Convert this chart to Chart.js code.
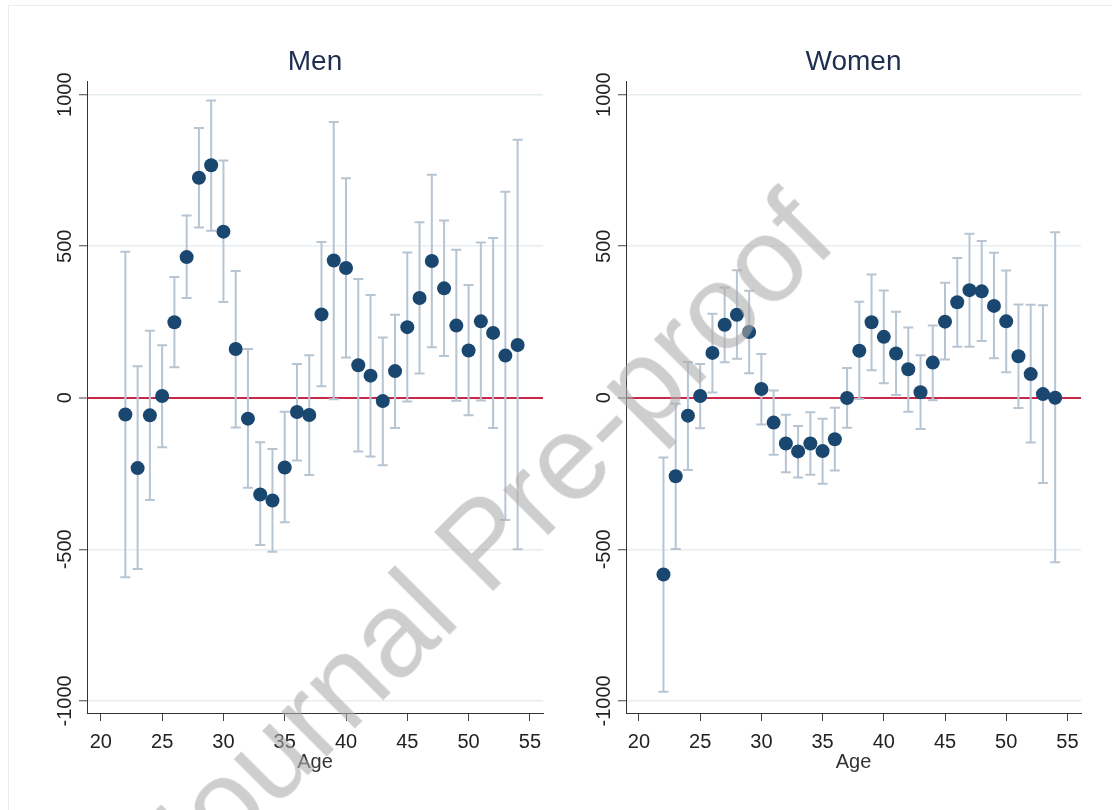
<!DOCTYPE html>
<html>
<head>
<meta charset="utf-8">
<script src="https://cdn.jsdelivr.net/npm/chart.js@4.4.0/dist/chart.umd.min.js"></script>
<style>
  body { margin: 0; background: #fff; width: 1112px; height: 810px; overflow: hidden; position: relative; font-family: "Liberation Sans", Arial, sans-serif; }
  .frame { position: absolute; left: 8px; top: 5px; width: 1120px; height: 830px; border: 1px solid #ececec; }
  .panel { position: absolute; top: 0; width: 556px; height: 810px; }
  #men-wrap { left: 0; }
  #women-wrap { left: 556px; }
  .watermark {
    position: absolute; left: 482px; top: 542px;
    transform: translate(-50%, -50%) rotate(-45deg);
    font-family: "Liberation Sans", Arial, sans-serif;
    font-size: 120px; white-space: nowrap;
    color: rgba(170,170,170,0.58); pointer-events: none;
  }
</style>
</head>
<body>
<div class="frame"></div>
<div class="panel" id="men-wrap"><canvas id="menChart" width="556" height="810"></canvas></div>
<div class="panel" id="women-wrap"><canvas id="womenChart" width="556" height="810"></canvas></div>
<div class="watermark">Journal Pre-proof</div>

<script>
// ---- data ----
const ages = [22, 23, 24, 25, 26, 27, 28, 29, 30, 31, 32, 33, 34, 35, 36, 37, 38,
              39, 40, 41, 42, 43, 44, 45, 46, 47, 48, 49, 50, 51, 52, 53, 54];

const menEst = [-55, -232, -58, 6, 249, 464, 726, 767, 548, 161, -69, -319, -339, -230, -47, -57, 275,
                453, 428, 107, 73, -11, 88, 233, 329, 451, 361, 238, 156, 252, 214, 139, 174];
const menLo  = [-592, -565, -337, -163, 101, 329, 562, 551, 316, -98, -297, -486, -508, -411, -207, -255, 38,
                -5, 133, -177, -194, -223, -100, -12, 80, 167, 138, -10, -58, -9, -100, -403, -500];
const menHi  = [482, 104, 221, 173, 398, 601, 890, 981, 783, 418, 161, -147, -169, -46, 111, 140, 514,
                910, 724, 392, 339, 199, 274, 479, 579, 736, 585, 488, 372, 512, 527, 680, 851];

const womenEst = [-583, -259, -59, 6, 148, 241, 274, 217, 29, -82, -151, -177, -151, -176, -137, -1, 155,
                  249, 201, 146, 94, 18, 116, 251, 315, 355, 351, 303, 252, 137, 78, 12, 0];
const womenLo  = [-970, -499, -238, -101, 17, 117, 129, 81, -88, -188, -246, -263, -254, -284, -240, -99, -4,
                  91, 48, 9, -46, -103, -8, 126, 168, 168, 187, 130, 84, -34, -148, -281, -543];
const womenHi  = [-197, -20, 118, 111, 277, 364, 421, 353, 144, 24, -56, -93, -48, -69, -33, 98, 317,
                  407, 354, 284, 232, 140, 238, 379, 461, 541, 517, 478, 420, 308, 307, 305, 546];

const xTicks = [20, 25, 30, 35, 40, 45, 50, 55];
const yTicks = [1000, 500, 0, -500, -1000];

const FONT = '"Liberation Sans", Arial, sans-serif';
const NAVY = "#1a476f";
const BAR = "#b7c5d3";
const RED = "#c8284a";
const GRID = "#e6eef2";

// error bars drawn under the points
const errorBarsPlugin = {
  id: "errorBars",
  beforeDatasetsDraw(chart, args, opts) {
    const { ctx, scales } = chart;
    const x = scales.x, y = scales.y;
    ctx.save();
    ctx.strokeStyle = BAR;
    ctx.lineWidth = 2;
    opts.x.forEach((a, i) => {
      const px = x.getPixelForValue(a);
      const top = y.getPixelForValue(opts.hi[i]);
      const bot = y.getPixelForValue(opts.lo[i]);
      ctx.beginPath();
      ctx.moveTo(px, top); ctx.lineTo(px, bot);
      ctx.moveTo(px - 5, top); ctx.lineTo(px + 5, top);
      ctx.moveTo(px - 5, bot); ctx.lineTo(px + 5, bot);
      ctx.stroke();
    });
    ctx.restore();
  }
};

// vertical y tick labels, stata style
const yLabelsPlugin = {
  id: "yLabels",
  afterDraw(chart) {
    const { ctx, scales, chartArea } = chart;
    ctx.save();
    ctx.font = "20px " + FONT;
    ctx.fillStyle = "#222";
    ctx.textAlign = "center";
    ctx.textBaseline = "alphabetic";
    yTicks.forEach(v => {
      const py = scales.y.getPixelForValue(v);
      ctx.save();
      ctx.translate(chartArea.left - 16, py);
      ctx.rotate(-Math.PI / 2);
      ctx.fillText(String(v), 0, 0);
      ctx.restore();
    });
    ctx.restore();
  }
};

function makePanel(id, title, est, lo, hi, xMin, xMax, pad) {
  const ctx = document.getElementById(id).getContext("2d");
  return new Chart(ctx, {
    type: "scatter",
    data: {
      datasets: [{
        data: ages.map((a, i) => ({ x: a, y: est[i] })),
        backgroundColor: NAVY,
        borderColor: NAVY,
        borderWidth: 0,
        pointRadius: 7,
        pointHoverRadius: 7
      }]
    },
    options: {
      responsive: false,
      animation: false,
      layout: { padding: pad },
      plugins: {
        legend: { display: false },
        tooltip: { enabled: false },
        title: {
          display: true,
          text: title,
          fullSize: false,
          color: "#1f2f4f",
          font: { family: FONT, size: 28, weight: "normal", lineHeight: 1.2 },
          padding: { top: 45, bottom: 3 }
        },
        errorBars: { x: ages, lo: lo, hi: hi }
      },
      scales: {
        x: {
          type: "linear",
          min: xMin,
          max: xMax,
          afterBuildTicks: s => { s.ticks = xTicks.map(v => ({ value: v })); },
          afterFit: s => { s.height = 70; },
          grid: { drawOnChartArea: false, drawTicks: true, tickLength: 8, tickColor: "#444", tickWidth: 1 },
          border: { display: true, color: "#333", width: 1 },
          ticks: {
            autoSkip: false, maxRotation: 0, padding: 9, color: "#222",
            font: { family: FONT, size: 20 },
            callback: v => String(v)
          },
          title: {
            display: true, text: "Age", color: "#333",
            font: { family: FONT, size: 20 },
            padding: { top: 0, bottom: 9 }
          }
        },
        y: {
          type: "linear",
          min: -1040,
          max: 1043,
          afterBuildTicks: s => { s.ticks = yTicks.map(v => ({ value: v })); },
          afterFit: s => { s.width = 50; },
          grid: {
            color: c => (c.tick && c.tick.value === 0 ? RED : GRID),
            lineWidth: c => (c.tick && c.tick.value === 0 ? 2 : 1.5),
            drawTicks: true, tickLength: 8, tickColor: "#444", tickWidth: 1
          },
          border: { display: true, color: "#333", width: 1 },
          ticks: { display: false }
        }
      }
    },
    plugins: [errorBarsPlugin, yLabelsPlugin]
  });
}

makePanel("menChart", "Men", menEst, menLo, menHi, 18.87, 56.07,
  { left: 37, right: 13, top: 0, bottom: 27 });
makePanel("womenChart", "Women", womenEst, womenLo, womenHi, 18.94, 56.11,
  { left: 20, right: 31, top: 0, bottom: 27 });
</script>
</body>
</html>
